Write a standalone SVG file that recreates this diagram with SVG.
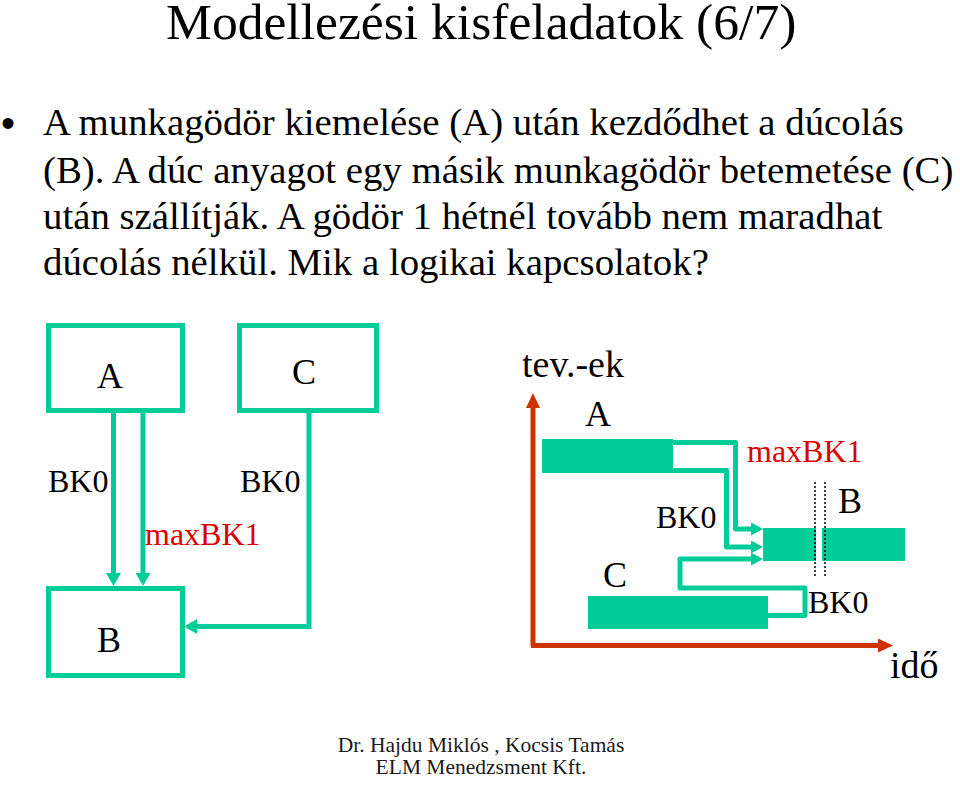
<svg xmlns="http://www.w3.org/2000/svg" width="960" height="792" viewBox="0 0 960 792">
  <style>
    .t { font-family: "Liberation Serif", "Times New Roman", serif; fill: #000; }
    .title { font-size: 51.6px; }
    .body { font-size: 38.8px; }
    .big { font-size: 36px; }
    .ax { font-size: 38px; }
    .lbl { font-size: 32px; }
    .red { fill: #DD0000; }
    .foot { font-size: 21.5px; fill: #1a1a1a; text-anchor: middle; }
    .box { fill: #fff; stroke: #00CC99; stroke-width: 5; }
    .bar { fill: #00CC99; stroke: none; }
    .conL { fill: none; stroke: #00CC99; stroke-width: 5; marker-end: url(#headL); }
    .conR { fill: none; stroke: #00CC99; stroke-width: 5; stroke-linejoin: round; marker-end: url(#headR); }
    .axis { fill: none; stroke: #CC3300; stroke-width: 5; marker-end: url(#headAx); }
    .dot { fill: none; stroke: #000; stroke-width: 1.5; stroke-dasharray: 2 2; }
  </style>
  <defs>
    <marker id="headL" markerUnits="userSpaceOnUse" viewBox="0 -7.5 13 15" markerWidth="13" markerHeight="15" refX="0" refY="0" orient="auto">
      <path d="M0,-7.5 L13,0 L0,7.5 z" fill="#00CC99"/>
    </marker>
    <marker id="headR" markerUnits="userSpaceOnUse" viewBox="0 -6.5 12 13" markerWidth="12" markerHeight="13" refX="0" refY="0" orient="auto">
      <path d="M0,-6.5 L12,0 L0,6.5 z" fill="#00CC99"/>
    </marker>
    <marker id="headAx" markerUnits="userSpaceOnUse" viewBox="0 -7 15 14" markerWidth="15" markerHeight="14" refX="0" refY="0" orient="auto">
      <path d="M0,-7 L15,0 L0,7 z" fill="#CC3300"/>
    </marker>
  </defs>
  <rect width="960" height="792" fill="#fff"/>

  <g id="title">
    <text class="t title" x="166" y="39">Modellezési kisfeladatok (6/7)</text>
  </g>

  <g id="bodytext">
    <text class="t" x="1" y="137" style="font-family:'Liberation Sans',Arial,sans-serif;font-size:40px">•</text>
    <text class="t body" x="43" y="135">A munkagödör kiemelése (A) után kezdődhet a dúcolás</text>
    <text class="t body" x="43" y="182.5">(B). A dúc anyagot egy másik munkagödör betemetése (C)</text>
    <text class="t body" x="43" y="229">után szállítják. A gödör 1 hétnél tovább nem maradhat</text>
    <text class="t body" x="43" y="275">dúcolás nélkül. Mik a logikai kapcsolatok?</text>
  </g>

  <!-- Left network diagram -->
  <g id="nodeA">
    <rect class="box" x="48.5" y="325.5" width="134" height="85"/>
    <text class="t big" x="110" y="388" text-anchor="middle">A</text>
  </g>
  <g id="nodeC">
    <rect class="box" x="239.5" y="325.5" width="137" height="85"/>
    <text class="t big" x="304" y="384" text-anchor="middle">C</text>
  </g>
  <g id="nodeB">
    <rect class="box" x="48.5" y="588.5" width="134" height="87"/>
    <text class="t big" x="109" y="652" text-anchor="middle">B</text>
  </g>

  <!-- Right time chart -->
  <g id="barA">
    <rect class="bar" x="542" y="439" width="131" height="34"/>
    <text class="t big" x="585" y="426">A</text>
  </g>
  <g id="barB">
    <rect class="bar" x="763" y="528" width="53" height="33"/>
    <rect class="bar" x="822" y="528" width="83" height="33"/>
    <text class="t big" x="838" y="513">B</text>
  </g>
  <g id="barC">
    <rect class="bar" x="588" y="596" width="180" height="33"/>
    <text class="t big" x="603" y="587">C</text>
  </g>
  <g id="axes">
    <path class="axis" d="M533,646 V408"/>
    <path class="axis" d="M531,645.5 H878"/>
    <text class="t ax" x="522" y="377">tev.-ek</text>
    <text class="t ax" x="890" y="678">idő</text>
  </g>
  <g id="markers">
    <line class="dot" x1="815" y1="482" x2="815" y2="577"/>
    <line class="dot" x1="825" y1="482" x2="825" y2="577"/>
  </g>

  <g id="connectors">
    <path class="conL" d="M113.5,413 V573"/>
    <path class="conL" d="M143,413 V573"/>
    <path class="conL" d="M309,413 V626.5 H197"/>
    <path class="conR" d="M673,442.5 H735.5 V529 H751"/>
    <path class="conR" d="M673,470.5 H726.5 V547 H751"/>
    <path class="conR" d="M768,615.5 H805 V588 H680 V559 H751"/>
  </g>

  <g id="labels">
    <text class="t lbl" x="48" y="492">BK0</text>
    <text class="t lbl" x="240" y="492">BK0</text>
    <text class="t lbl red" x="145" y="545">maxBK1</text>
    <text class="t lbl red" x="747" y="462">maxBK1</text>
    <text class="t lbl" x="656" y="528">BK0</text>
    <text class="t lbl" x="808" y="613">BK0</text>
  </g>

  <g id="footer">
    <text class="t foot" x="481" y="752">Dr. Hajdu Miklós , Kocsis Tamás</text>
    <text class="t foot" x="481" y="774">ELM Menedzsment Kft.</text>
  </g>
</svg>
